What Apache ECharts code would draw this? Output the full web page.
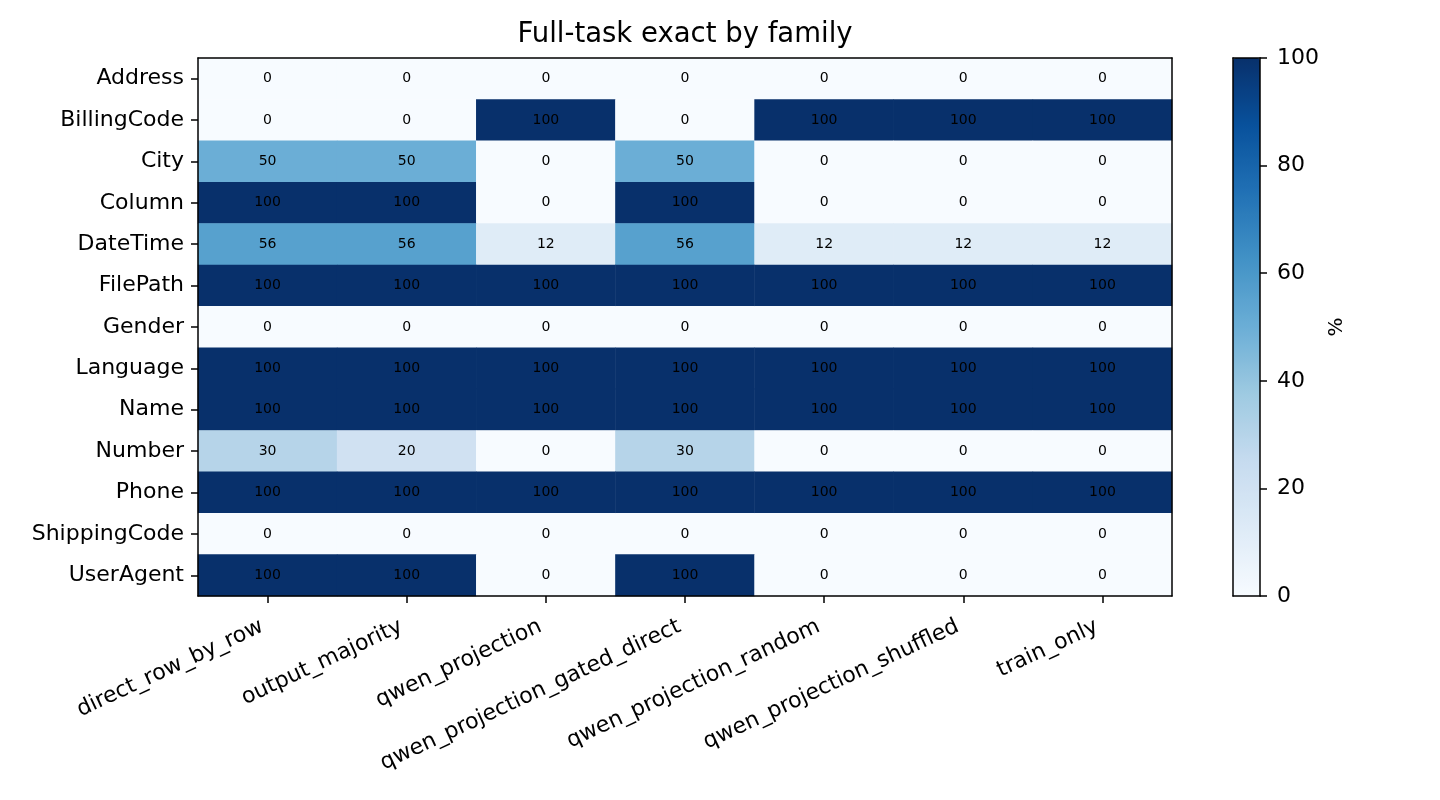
<!DOCTYPE html>
<html>
<head>
<meta charset="utf-8">
<script src="https://cdn.jsdelivr.net/npm/echarts@6/dist/echarts.min.js"></script>
<style>
  html, body { margin: 0; padding: 0; background: #fff; }
  #main { width: 1440px; height: 800px; }
</style>
</head>
<body>
<div id="main"></div>
<script>
  // families on the y axis (top to bottom) and methods on the x axis
  const families = ['Address', 'BillingCode', 'City', 'Column', 'DateTime', 'FilePath', 'Gender',
    'Language', 'Name', 'Number', 'Phone', 'ShippingCode', 'UserAgent'];
  const methods = ['direct_row_by_row', 'output_majority', 'qwen_projection', 'qwen_projection_gated_direct',
    'qwen_projection_random', 'qwen_projection_shuffled', 'train_only'];

  // one row per family, values in %
  const address      = [0, 0, 0, 0, 0, 0, 0];
  const billingCode  = [0, 0, 100, 0, 100, 100, 100];
  const city         = [50, 50, 0, 50, 0, 0, 0];
  const column       = [100, 100, 0, 100, 0, 0, 0];
  const dateTime     = [56, 56, 12, 56, 12, 12, 12];
  const filePath     = [100, 100, 100, 100, 100, 100, 100];
  const gender       = [0, 0, 0, 0, 0, 0, 0];
  const language     = [100, 100, 100, 100, 100, 100, 100];
  const name         = [100, 100, 100, 100, 100, 100, 100];
  const number       = [30, 20, 0, 30, 0, 0, 0];
  const phone        = [100, 100, 100, 100, 100, 100, 100];
  const shippingCode = [0, 0, 0, 0, 0, 0, 0];
  const userAgent    = [100, 100, 0, 100, 0, 0, 0];
  const rows = [address, billingCode, city, column, dateTime, filePath, gender,
    language, name, number, phone, shippingCode, userAgent];

  const cbMin = 0, cbMax = 100, cbStep = 20;

  // matplotlib "Blues"
  const blues = ['#f7fbff', '#deebf7', '#c6dbef', '#9ecae1', '#6baed6', '#4292c6', '#2171b5', '#08519c', '#08306b'];

  const font = 'DejaVu Sans';

  let cells = [];
  rows.forEach((r, yi) => r.forEach((v, xi) => cells.push([xi, yi, v])));

  const spine = { show: true, onZero: false, lineStyle: { color: '#000', width: 1.5 } };

  let myChart = echarts.init(document.getElementById('main'));
  let option = {
    backgroundColor: '#fff',
    animation: false,
    textStyle: { fontFamily: font },
    title: {
      text: 'Full-task exact by family',
      left: 680, top: 16, textAlign: 'center',
      textStyle: { fontFamily: font, fontSize: 27.5, fontWeight: 'normal', color: '#000' }
    },
    grid: [
      { left: 198, top: 58, width: 974, height: 538 },
      { left: 1233, top: 58, width: 27, height: 538 }
    ],
    xAxis: [
      {
        type: 'category', gridIndex: 0, data: methods, z: 10,
        axisLine: spine,
        axisTick: { show: true, alignWithLabel: true, length: 7, lineStyle: { color: '#000', width: 1.5 } },
        axisLabel: { rotate: 25, margin: 27, interval: 0, fontSize: 22, color: '#000', fontFamily: font, padding: [0, 6, 0, 0] },
        splitLine: { show: false }
      },
      {
        type: 'category', gridIndex: 0, data: methods, position: 'top', z: 10,
        axisLine: spine, axisTick: { show: false }, axisLabel: { show: false }
      },
      {
        type: 'category', gridIndex: 1, data: [''], position: 'bottom', z: 10,
        axisLine: spine, axisTick: { show: false }, axisLabel: { show: false }
      },
      {
        type: 'category', gridIndex: 1, data: [''], position: 'top', z: 10,
        axisLine: spine, axisTick: { show: false }, axisLabel: { show: false }
      }
    ],
    yAxis: [
      {
        type: 'category', gridIndex: 0, data: families, inverse: true, z: 10,
        axisLine: spine,
        axisTick: { show: true, alignWithLabel: true, length: 7, lineStyle: { color: '#000', width: 1.5 } },
        axisLabel: { margin: 14, interval: 0, fontSize: 22, color: '#000', fontFamily: font, padding: [6, 0, 0, 0] },
        splitLine: { show: false }
      },
      {
        type: 'category', gridIndex: 0, data: families, inverse: true, position: 'right', z: 10,
        axisLine: spine, axisTick: { show: false }, axisLabel: { show: false }
      },
      {
        type: 'value', gridIndex: 1, position: 'right', min: cbMin, max: cbMax, interval: cbStep, z: 10,
        name: '%', nameLocation: 'middle', nameRotate: 90, nameGap: 67,
        nameTextStyle: { fontSize: 20, color: '#000', fontFamily: font },
        axisLine: spine,
        axisTick: { show: true, length: 7, lineStyle: { color: '#000', width: 1.5 } },
        axisLabel: { margin: 17, fontSize: 22, color: '#000', fontFamily: font, padding: [6, 0, 0, 0] },
        splitLine: { show: false }
      },
      {
        type: 'value', gridIndex: 1, position: 'left', min: cbMin, max: cbMax, z: 10,
        axisLine: spine, axisTick: { show: false }, axisLabel: { show: false }, splitLine: { show: false }
      }
    ],
    visualMap: {
      type: 'continuous',
      min: cbMin, max: cbMax,
      seriesIndex: 0,
      calculable: false,
      orient: 'vertical',
      left: 1233, top: 58,
      itemWidth: 27, itemHeight: 538,
      padding: 0,
      text: null,
      showLabel: false,
      inRange: { color: blues }
    },
    series: [
      {
        type: 'heatmap',
        xAxisIndex: 0, yAxisIndex: 0,
        data: cells,
        label: {
          show: true, color: '#000', fontSize: 14, fontFamily: font,
          formatter: p => String(p.value[2])
        },
        itemStyle: { borderWidth: 0 },
        emphasis: { disabled: true }
      }
    ]
  };
  // 绘制图表
  myChart.setOption(option);
</script>
</body>
</html>
